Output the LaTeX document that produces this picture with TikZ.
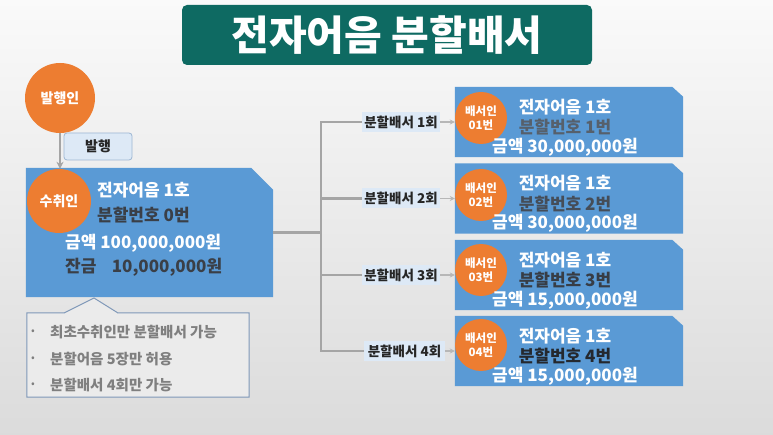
\documentclass[tikz,border=0pt]{standalone}
\usepackage{fontspec}
\setmainfont{Noto Sans CJK KR}
\usetikzlibrary{arrows.meta,calc}
\definecolor{boxblue}{HTML}{5A9AD5}
\definecolor{orng}{HTML}{ED7D31}
\definecolor{teal}{HTML}{0E6A62}
\definecolor{lblfill}{HTML}{DDE9F6}
\definecolor{lblline}{HTML}{9DB6D3}
\definecolor{darktxt}{HTML}{3A3F47}
\definecolor{conncol}{HTML}{A5A5A5}
\definecolor{bullcol}{HTML}{7F7F7F}
\definecolor{callline}{HTML}{7F98B8}
\definecolor{callfill}{HTML}{EBEBEB}
\definecolor{dA}{HTML}{56606C}
\definecolor{dB}{HTML}{454D58}
\definecolor{dC}{HTML}{373D46}
\definecolor{dD}{HTML}{24282E}
\tikzset{
  geom/.style={rectangle, draw=none, fill=none, inner sep=0pt},
  orangecirc/.style={circle, fill=orng, text=white, inner sep=0pt, font=\bfseries\fontsize{14}{16}\selectfont},
  smallcirc/.style={circle, fill=orng, text=white, inner sep=0pt, minimum size=52pt, align=center, font=\bfseries\fontsize{11.5}{14}\selectfont},
  wtxt/.style={inner sep=0pt, text=white, font=\bfseries\fontsize{17}{18}\selectfont},
  dtxt/.style={inner sep=0pt, text=darktxt, font=\bfseries\fontsize{17}{18}\selectfont},
  lblbox/.style={rectangle, fill=lblfill, inner sep=0pt, minimum height=20pt, font=\bfseries\fontsize{13.5}{15}\selectfont, text=black!85},
  bullettxt/.style={inner sep=0pt, anchor=west, text=bullcol, font=\bfseries\fontsize{14.5}{16}\selectfont},
  conn/.style={draw=conncol, line width=2.4pt},
  sarrow/.style={draw=conncol!80, line width=1.3pt, -{Stealth[length=5pt,width=5pt]}}
}
\newcommand\rbox[5]{%
  \node[geom, minimum width=228pt, minimum height=70pt] (b#1) at (569,#2) {};
  \fill[boxblue] (b#1.south west) -- (b#1.north west) -- ([xshift=-11pt]b#1.north east)
     -- ([yshift=-10pt]b#1.north east) -- (b#1.south east) -- cycle;
  \node[smallcirc] (c#1) at (481,#3) {배서인\\0#1번};
  \node[wtxt] (ta#1) at (565,#2-15) {전자어음 1호};
  \node[dtxt, text=#5] (tb#1) at (565,#2+5.5) {분할번호 #1번};
  \node[wtxt] (tc#1) at (565,#2+25) {금액 #4원};
}
\begin{document}
\begin{tikzpicture}[x=1pt,y=-1pt]
\shade[top color=white!98!black, bottom color=white!86!black] (0,0) rectangle (773,435);
\useasboundingbox (0,0) rectangle (773,435);
% title
\node[rectangle, rounded corners=5pt, fill=teal, text=white, minimum width=410pt, minimum height=60pt,
  inner sep=0pt, font=\bfseries\fontsize{41}{42}\selectfont] (title) at (387,35) {전자어음 분할배서};
% issuer
\node[orangecirc, minimum size=70pt] (iss) at (60,98) {발행인};
% main box
\node[geom, minimum width=247pt, minimum height=129pt] (mb) at (149.5,232.5) {};
\fill[boxblue] (mb.south west) -- (mb.north west) -- ([xshift=-22pt]mb.north east)
   -- ([yshift=-22pt]mb.north east) -- (mb.south east) -- cycle;
\node[orangecirc, minimum size=64pt] (rec) at (59,201) {수취인};
\node[wtxt, anchor=west] (m1) at (97,190) {전자어음 1호};
\node[dtxt, anchor=west] (m2) at (97,215) {분할번호 0번};
\node[wtxt, anchor=west] (m3) at (65,243) {금액 100,000,000원};
\node[dtxt, anchor=west, text width=157pt, align=left] (m4) at (65,267) {잔금\hfill 10,000,000원};
% issue arrow and label
\draw[draw=conncol, line width=1.8pt, -{Stealth[length=7pt,width=7pt]}] (iss.south) -- (iss.south |- rec.north);
\node[rectangle, rounded corners=3pt, fill=lblfill, draw=lblline, line width=0.8pt, minimum width=68pt,
  minimum height=27pt, inner sep=0pt, font=\bfseries\fontsize{14}{16}\selectfont, text=black!85] (pub) at (98,146.5) {발행};
% callout
\node[geom, minimum width=222pt, minimum height=84pt] (cb) at (138,355) {};
\coordinate (pa) at (64,313);
\coordinate (pt) at (94,298);
\coordinate (pb) at (118,313);
\draw[draw=callline, fill=callfill, line width=1pt, line join=miter] (cb.north west) -- (pa) -- (pt) -- (pb)
   -- (cb.north east) -- (cb.south east) -- (cb.south west) -- cycle;
\node[bullettxt, font=\fontsize{11}{12}\selectfont] (u1) at (31,332) {•};
\node[bullettxt, font=\fontsize{11}{12}\selectfont] (u2) at (31,359) {•};
\node[bullettxt, font=\fontsize{11}{12}\selectfont] (u3) at (31,385) {•};
\node[bullettxt] (s1) at (50,332) {최초수취인만 분할배서 가능};
\node[bullettxt] (s2) at (50,359) {분할어음 5장만 허용};
\node[bullettxt] (s3) at (50,385) {분할배서 4회만 가능};
% right boxes
\rbox{1}{122}{118}{30,000,000}{dA}
\rbox{2}{198.5}{195}{30,000,000}{dB}
\rbox{3}{275}{270}{15,000,000}{dC}
\rbox{4}{351}{345}{15,000,000}{dD}
% labels
\node[lblbox, minimum width=78pt] (l1) at (401,122) {분할배서 1회};
\node[lblbox, minimum width=78pt] (l2) at (401,198.5) {분할배서 2회};
\node[lblbox, minimum width=78pt] (l3) at (401,275) {분할배서 3회};
\node[lblbox, minimum width=81pt] (l4) at (404.5,351) {분할배서 4회};
% connectors
\coordinate (j) at (321,232.5);
\draw[conn] (mb.east) -- (j);
\draw[conn] (l1.west) -| (j);
\draw[conn] (l2.west) -| (j);
\draw[conn] (l3.west) -| (j);
\draw[conn] (l4.west) -| (j);
\draw[sarrow] (l1.east) -- (b1.west);
\draw[sarrow] (l2.east) -- (b2.west);
\draw[sarrow] (l3.east) -- (b3.west);
\draw[sarrow] (l4.east) -- (b4.west);
\end{tikzpicture}
\end{document}
